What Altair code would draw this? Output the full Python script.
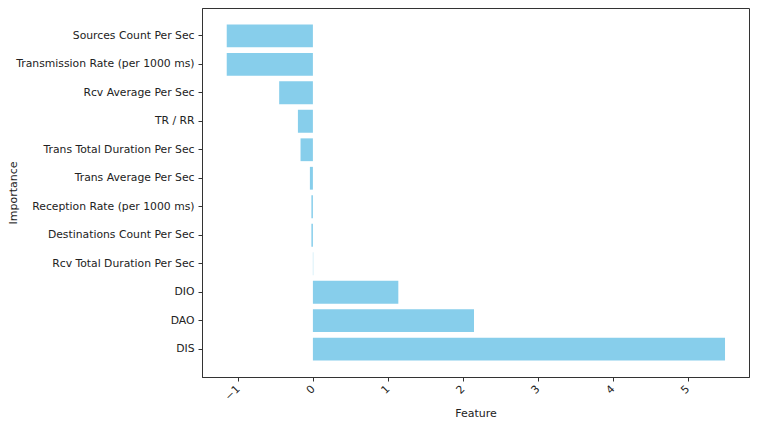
import altair as alt
import pandas as pd

features = [
    "Sources Count Per Sec",
    "Transmission Rate (per 1000 ms)",
    "Rcv Average Per Sec",
    "TR / RR",
    "Trans Total Duration Per Sec",
    "Trans Average Per Sec",
    "Reception Rate (per 1000 ms)",
    "Destinations Count Per Sec",
    "Rcv Total Duration Per Sec",
    "DIO",
    "DAO",
    "DIS",
]
importance = [-1.15, -1.15, -0.45, -0.20, -0.165, -0.04, -0.02, -0.02, 0.004, 1.14, 2.15, 5.50]
x_ticks = [-1, 0, 1, 2, 3, 4, 5]

df = pd.DataFrame({"feature": features, "importance": importance})

font = "DejaVu Sans"

chart = (
    alt.Chart(df)
    .mark_bar(color="#87CEEB")
    .encode(
        x=alt.X(
            "importance:Q",
            title="Feature",
            scale=alt.Scale(domain=[-1.48, 5.82], nice=False, zero=False),
            axis=alt.Axis(
                values=x_ticks,
                labelAngle=-45,
                labelAlign="right",
                labelBaseline="middle",
                grid=False,
                tickSize=4,
                labelPadding=6,
                titlePadding=6,
            ),
        ),
        y=alt.Y(
            "feature:N",
            sort=features,
            title="Importance",
            scale=alt.Scale(paddingInner=0.2, paddingOuter=0.575),
            axis=alt.Axis(
                grid=False,
                tickSize=4,
                labelPadding=4,
                titleX=-189,
                titleBaseline="middle",
            ),
        ),
    )
    .properties(
        width=547,
        height=369,
        autosize=alt.AutoSizeParams(type="none"),
        padding={"left": 194, "top": 0, "right": 1, "bottom": 46},
    )
    .configure_view(stroke="#333333", strokeWidth=1)
    .configure_axis(
        labelFont=font,
        titleFont=font,
        labelFontSize=10.8,
        titleFontSize=11,
        titleFontWeight="normal",
        labelColor="#222222",
        titleColor="#222222",
        domainColor="#333333",
        tickColor="#333333",
        labelLimit=300,
    )
)

chart.save("out.html", embed_options={"renderer": "svg", "actions": False})
